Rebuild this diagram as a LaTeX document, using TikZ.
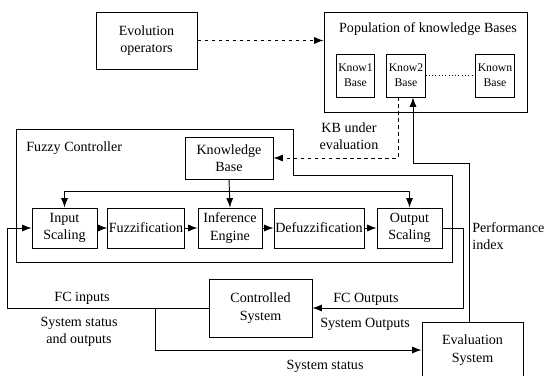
\documentclass[tikz,border=0pt]{standalone}
\usepackage{fontspec}
\setmainfont{Liberation Serif}
\usetikzlibrary{arrows.meta}

\tikzset{
  box/.style={draw, thick, align=center, inner sep=1pt, font=\fontsize{12}{15}\selectfont},
  kbox/.style={draw, thick, align=center, inner sep=1pt, minimum width=1.15cm, minimum height=1.29cm, font=\fontsize{10}{13}\selectfont},
  lbl/.style={align=center, inner sep=1pt, font=\fontsize{12}{15}\selectfont},
  conn/.style={thick, -{Latex[length=8pt,width=6pt]}}
}

\begin{document}
\begin{tikzpicture}[x=0.03cm, y=-0.03cm]

  \clip (0,0) rectangle (544,376);

  % Evolution and population
  \node[box, minimum width=3.03cm, minimum height=1.71cm] (evo) at (146.5,40.5) {Evolution\\operators};
  \node[box, minimum width=6.09cm, minimum height=3.0cm] (pop) at (425.5,62) {};
  \node[lbl] (poptitle) at (428,29) {Population of knowledge Bases};

  \node[kbox] (k1) at (355.5,75.5) {Know1\\Base};
  \node[kbox] (k2) at (406,75.5) {Know2\\Base};
  \node[kbox] (kn) at (495,75.5) {Known\\Base};

  \draw[thick, dotted] (k2.east) -- (kn.west);
  \draw[conn, dashed] (evo.east) -- (evo.east -| pop.west);

  % Fuzzy controller outline
  \draw[thick] (16,129) -- (293,129) -- (293,175) -- (452,175) -- (452,262) -- (16,262) -- cycle;
  \node[lbl, anchor=west] (fctitle) at (25,148) {Fuzzy Controller};

  \node[box, minimum width=2.64cm, minimum height=1.26cm] (kb) at (229,158) {Knowledge\\Base};

  \node[box, minimum width=1.95cm, minimum height=1.2cm] (insc)   at (64.5,228) {Input\\Scaling};
  \node[box, minimum width=2.28cm, minimum height=1.2cm] (fuzz)   at (146,228)  {Fuzzification};
  \node[box, minimum width=1.92cm, minimum height=1.2cm] (inf)    at (230,228)  {Inference\\Engine};
  \node[box, minimum width=2.7cm,  minimum height=1.2cm] (defuzz) at (319,228)  {Defuzzification};
  \node[box, minimum width=1.95cm, minimum height=1.2cm] (outsc)  at (409.5,228) {Output\\Scaling};

  \node[box, minimum width=3.09cm, minimum height=1.74cm] (ctrl) at (260.5,308) {Controlled\\System};
  \node[box, minimum width=3.03cm, minimum height=1.68cm] (eval) at (472.5,350) {Evaluation\\System};

  \coordinate (bus)  at (0,191);
  \coordinate (kbin) at (398,97);
  \coordinate (perf) at (469,163);
  \coordinate (kbup) at (413,163);
  \coordinate (fcin) at (7,228);
  \coordinate (fcout) at (463,228);
  \coordinate (br)   at (155,308);

  % Inside the controller
  \draw[conn] (kb.south) -- (inf.north);
  \draw[conn] (kb.south |- bus) -| (insc.north);
  \draw[conn] (kb.south |- bus) -| (outsc.north);
  \draw[conn] (insc) -- (fuzz);
  \draw[conn] (fuzz) -- (inf);
  \draw[conn] (inf) -- (defuzz);
  \draw[conn] (defuzz) -- (outsc);

  % Loops
  \draw[conn, dashed] (kbin) |- (kb.east);
  \draw[conn] (eval.north -| perf) -- (perf) -- (kbup) -- (kbup |- k2.south);
  \draw[conn] (outsc.east) -- (fcout) |- (ctrl.east);
  \draw[conn] (ctrl.west) -| (fcin) -- (insc.west);
  \draw[conn] (br) |- (eval.west);

  \node[lbl] (kbeval) at (349,136) {KB under\\evaluation};
  \node[lbl, anchor=west, align=left] (pidx) at (471,236) {Performance\\index};
  \node[lbl] (fcinl) at (82,298) {FC inputs};
  \node[lbl] (stout) at (79,332) {System status\\and outputs};
  \node[lbl] (fcoutl) at (366,299) {FC Outputs};
  \node[lbl] (sysout) at (365,324) {System Outputs};
  \node[lbl] (sysst) at (325,366) {System status};

\end{tikzpicture}
\end{document}
